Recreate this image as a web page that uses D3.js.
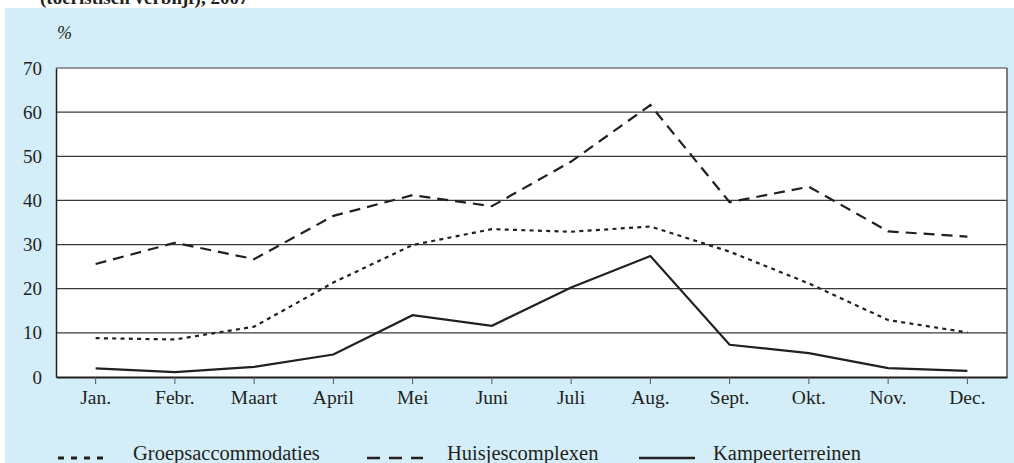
<!DOCTYPE html>
<html><head><meta charset="utf-8">
<script src="https://cdn.jsdelivr.net/npm/d3@7"></script>
<style>
html,body{margin:0;padding:0;background:#fff;}
svg{display:block;}
text{font-family:"Liberation Serif","Times New Roman",serif;fill:#231f20;}
</style></head>
<body>
<svg id="chart" width="1014" height="463"></svg>
<script>
const months = ["Jan.","Febr.","Maart","April","Mei","Juni","Juli","Aug.","Sept.","Okt.","Nov.","Dec."];
const groepsaccommodaties = [8.8, 8.5, 11.4, 21.4, 29.9, 33.5, 32.9, 34.1, 28.4, 21.2, 12.9, 10.1];
const huisjescomplexen = [25.6, 30.4, 26.7, 36.5, 41.2, 38.7, 48.8, 61.6, 39.6, 43.1, 33.0, 31.8];
const kampeerterreinen = [1.95, 1.1, 2.3, 5.1, 14.0, 11.6, 20.3, 27.4, 7.3, 5.4, 2.0, 1.4];
const yTicks = [0, 10, 20, 30, 40, 50, 60, 70];
const seriesNames = ["Groepsaccommodaties", "Huisjescomplexen", "Kampeerterreinen"];
const seriesValues = [groepsaccommodaties, huisjescomplexen, kampeerterreinen];
const dashes = ["4,4.3", "11,7", null];

const svg = d3.select("#chart");
const pL = 56, pR = 1007, pT = 68, pB = 377;

svg.append("rect").attr("x",5).attr("y",8).attr("width",1009).attr("height",455).attr("fill","#d3eef9");
svg.append("text").attr("x",40).attr("y",4).attr("font-weight","bold").attr("font-size",19)
  .text("(toeristisch verblijf), 2007");

svg.append("rect").attr("x",pL).attr("y",pT).attr("width",pR-pL).attr("height",pB-pT).attr("fill","#fff");

const x = d3.scaleBand().domain(months).range([pL, pR]);
const y = d3.scaleLinear().domain([0, 70]).range([pB, pT]);
const cx = d => x(d) + x.bandwidth()/2;

// gridlines
svg.append("g").selectAll("line").data(yTicks.filter(t => t > 0 && t < 70)).join("line")
  .attr("x1",pL).attr("x2",pR).attr("y1",d=>y(d)).attr("y2",d=>y(d))
  .attr("stroke","#3a3a3a").attr("stroke-width",1.2);

// frame
svg.append("line").attr("x1",pL).attr("x2",pR).attr("y1",pT).attr("y2",pT).attr("stroke","#777").attr("stroke-width",1.5);
svg.append("line").attr("x1",pR).attr("x2",pR).attr("y1",pT).attr("y2",pB).attr("stroke","#555").attr("stroke-width",1.5);

// y axis
const yAxis = svg.append("g").attr("transform",`translate(${pL},0)`)
  .call(d3.axisLeft(y).tickValues(yTicks).tickSize(0).tickPadding(14).tickFormat(d3.format("d")));
yAxis.select(".domain").attr("stroke","#231f20").attr("stroke-width",1.5);
yAxis.selectAll("text").attr("font-size",19).attr("font-family","Liberation Serif").attr("fill","#231f20");

// x axis
const xAxis = svg.append("g").attr("transform",`translate(0,${pB})`)
  .call(d3.axisBottom(x).tickSize(7).tickPadding(6).tickSizeOuter(0));
xAxis.select(".domain").attr("stroke","#231f20").attr("stroke-width",1.8);
xAxis.selectAll(".tick line").attr("stroke","#555").attr("stroke-width",1);
xAxis.selectAll("text").attr("font-size",19.5).attr("font-family","Liberation Serif").attr("fill","#231f20");

svg.append("text").attr("x",57).attr("y",39).attr("font-style","italic").attr("font-size",18).text("%");

// lines
const line = d3.line().x((d,i)=>cx(months[i])).y(d=>y(d));
seriesValues.forEach((vals, k) => {
  const p = svg.append("path").datum(vals).attr("d", line).attr("fill","none")
    .attr("stroke","#231f20").attr("stroke-width",2.2).attr("stroke-linejoin","miter");
  if (dashes[k]) p.attr("stroke-dasharray", dashes[k]);
});

// legend
const legX = [[58,104,133],[367,423,447],[639,695,713]];
const legDash = ["6,7", "13,9", null];
seriesNames.forEach((n, k) => {
  const l = svg.append("line").attr("x1",legX[k][0]).attr("x2",legX[k][1]).attr("y1",458).attr("y2",458)
    .attr("stroke","#231f20").attr("stroke-width", k===0?3:2.5);
  if (legDash[k]) l.attr("stroke-dasharray", legDash[k]);
  svg.append("text").attr("x",legX[k][2]).attr("y",460).attr("font-size",20.5).text(n);
});
</script>
</body></html>
